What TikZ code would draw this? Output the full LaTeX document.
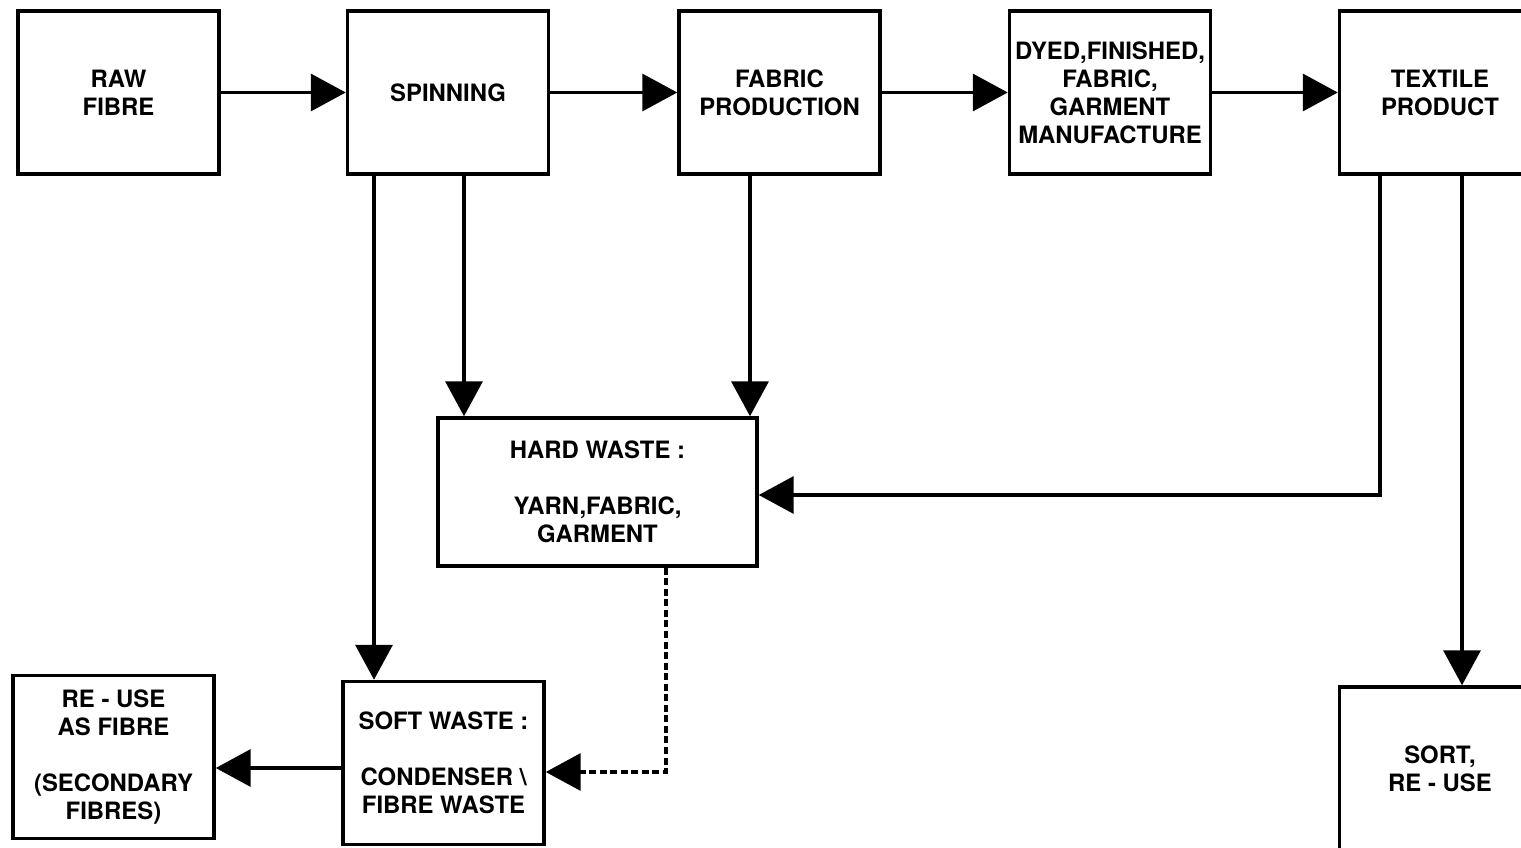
\documentclass[tikz,border=0pt]{standalone}
\usepackage{fontspec}
\setmainfont{TeX Gyre Heros}
\usetikzlibrary{arrows.meta}

\begin{document}
\begin{tikzpicture}[x=0.02cm,y=-0.02cm,>={Triangle[length=0.7cm,width=0.74cm]},
  box/.style={draw,line width=2pt,align=center,inner sep=0pt,
    minimum width=4.02cm,minimum height=3.26cm,
    font=\fontsize{13.6}{15.9}\selectfont\bfseries},
  flow/.style={->,line width=2pt},
  waste/.style={flow,dash pattern=on 4pt off 2pt}]
  \clip (0,0) rectangle (1521,848);
  % main chain
  \node[box] (raw) at (118.5,92.5) {RAW\\FIBRE};
  \node[box] (spin) at (448,92.5) {SPINNING};
  \node[box] (fabric) at (779.5,92.5) {FABRIC\\PRODUCTION};
  \node[box] (dyed) at (1110,92.5) {DYED,FINISHED,\\FABRIC,\\GARMENT\\MANUFACTURE};
  \node[box] (textile) at (1440,92.5) {TEXTILE\\PRODUCT};
  % waste and re-use
  \node[box,minimum width=6.38cm,minimum height=2.96cm] (hard) at (597.5,492)
    {HARD WASTE :\\[15.9pt]YARN,FABRIC,\\GARMENT};
  \node[box] (soft) at (443.5,763) {SOFT WASTE :\\[15.9pt]CONDENSER \textbackslash\\FIBRE WASTE};
  \node[box] (reuse) at (113.5,757) {RE - USE\\AS FIBRE\\[15.9pt](SECONDARY\\FIBRES)};
  \node[box] (sort) at (1440,768.5) {SORT,\\RE - USE};

  \coordinate (s1) at (374,0);
  \coordinate (s2) at (464,0);
  \coordinate (f1) at (750,0);
  \coordinate (t1) at (1380,495);
  \coordinate (t2) at (1462,0);
  \coordinate (h1) at (666,772);
  \coordinate (r1) at (0,768);

  \draw[flow] (raw) -- (spin);
  \draw[flow] (spin) -- (fabric);
  \draw[flow] (fabric) -- (dyed);
  \draw[flow] (dyed) -- (textile);
  \draw[flow] (spin.south -| s1) -- (soft.north -| s1);
  \draw[flow] (spin.south -| s2) -- (hard.north -| s2);
  \draw[flow] (fabric.south -| f1) -- (hard.north -| f1);
  \draw[flow] (textile.south -| t1) |- (hard.east |- t1);
  \draw[flow] (textile.south -| t2) -- (sort.north -| t2);
  \draw[waste] (hard.south -| h1) |- (soft.east |- h1);
  \draw[flow] (soft.west |- r1) -- (reuse.east |- r1);
\end{tikzpicture}
\end{document}
